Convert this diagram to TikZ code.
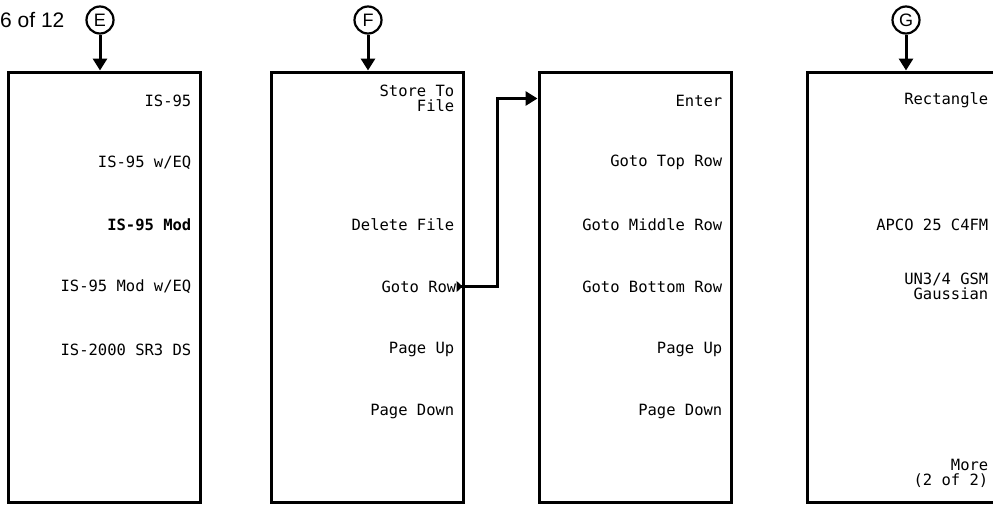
\documentclass[tikz,border=0pt]{standalone}
\usepackage{fontspec}
\setmainfont{Liberation Sans}
\setmonofont{DejaVu Sans Mono}
\usetikzlibrary{arrows.meta,positioning}

\begin{document}
\begin{tikzpicture}[
    x=1pt, y=-1pt,
    panel/.style={draw, line width=3pt, minimum width=192pt, minimum height=430pt, inner sep=0pt},
    key/.style={anchor=east, inner sep=0pt, align=right, font=\ttfamily\fontsize{15.5}{15.5}\selectfont},
    tag/.style={draw, circle, line width=2.2pt, minimum size=27pt, inner sep=0pt, font=\fontsize{18}{18}\selectfont},
    arr/.style={-{Triangle[length=12pt,width=14pt]}, line width=3pt},
    jump/.style={{Triangle[reversed,length=6pt,width=11pt]}-{Triangle[length=12pt,width=14pt]}, line width=3pt}
]
\useasboundingbox (0,0) rectangle (993,504);

% Page count and entry tags
\node[anchor=west, inner sep=0pt, font=\fontsize{21}{21}\selectfont] (pg) at (0,20) {6 of 12};
\node[tag] (ce) at (100,20) {E};
\node[tag] (cf) at (368,20) {F};
\node[tag] (cg) at (906,20) {G};

% Menu panels
\node[panel] (e) at (104,287) {};
\node[panel] (f) at (367,287) {};
\node[panel] (row) at (635,287) {};
\node[panel] (g) at (903,287) {};

% Tags into panels
\draw[arr] (ce) -- (ce |- e.north);
\draw[arr] (cf) -- (cf |- f.north);
\draw[arr] (cg) -- (cg |- g.north);

% Panel E keys
\node[key] (e1) at ([shift={(-10,30)}]e.north east) {IS-95};
\node[key] (e2) at ([shift={(-10,92)}]e.north east) {IS-95 w/EQ};
\node[key] (e3) at ([shift={(-10,154)}]e.north east) {\bfseries IS-95 Mod};
\node[key] (e4) at ([shift={(-10,216)}]e.north east) {IS-95 Mod w/EQ};
\node[key] (e5) at ([shift={(-10,279)}]e.north east) {IS-2000 SR3 DS};

% Panel F keys
\node[key] (f1) at ([shift={(-10,28)}]f.north east) {Store To\\File};
\node[key] (f3) at ([shift={(-10,154)}]f.north east) {Delete File};
\node[key] (f4) at ([shift={(-8,216)}]f.north east) {Goto Row};
\node[key] (f5) at ([shift={(-10,279)}]f.north east) {Page Up};
\node[key] (f6) at ([shift={(-10,341)}]f.north east) {Page Down};

% Row panel keys
\node[key] (r1) at ([shift={(-10,30)}]row.north east) {Enter};
\node[key] (r2) at ([shift={(-10,92)}]row.north east) {Goto Top Row};
\node[key] (r3) at ([shift={(-10,154)}]row.north east) {Goto Middle Row};
\node[key] (r4) at ([shift={(-10,216)}]row.north east) {Goto Bottom Row};
\node[key] (r5) at ([shift={(-10,279)}]row.north east) {Page Up};
\node[key] (r6) at ([shift={(-10,341)}]row.north east) {Page Down};

% Panel G keys
\node[key] (g1) at ([shift={(-12,30)}]g.north east) {Rectangle};
\node[key] (g3) at ([shift={(-12,154)}]g.north east) {APCO 25 C4FM};
\node[key] (g4) at ([shift={(-12,216)}]g.north east) {UN3/4 GSM\\Gaussian};
\node[key] (g7) at ([shift={(-12,403)}]g.north east) {More\\(2 of 2)};

% Goto Row opens the row panel
\draw[jump] (f4.east) -- ++(41,0) |- ([yshift=-28pt]row.north west);
\end{tikzpicture}
\end{document}
